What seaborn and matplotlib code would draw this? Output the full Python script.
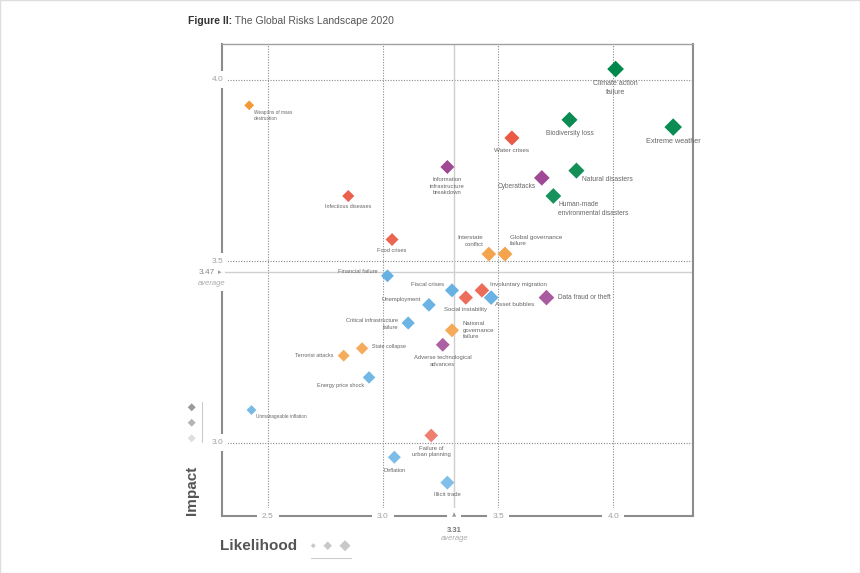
import numpy as np
import pandas as pd
import seaborn as sns
import matplotlib.pyplot as plt
import matplotlib.colors as mcolors
from matplotlib.patches import Rectangle

# data
risks = ['Weapons of mass destruction', 'Infectious diseases', 'Information infrastructure breakdown',
         'Food crises', 'Financial failure', 'Interstate conflict', 'Climate action failure',
         'Biodiversity loss', 'Extreme weather', 'Water crises', 'Cyberattacks', 'Natural disasters',
         'Human-made environmental disasters', 'Global governance failure', 'Fiscal crises',
         'Social instability', 'Involuntary migration', 'Asset bubbles', 'Data fraud or theft',
         'Unemployment', 'Critical infrastructure failure', 'National governance failure',
         'Adverse technological advances', 'State collapse', 'Terrorist attacks', 'Energy price shock',
         'Unmanageable inflation', 'Failure of urban planning', 'Deflation', 'Illicit trade']
labels = ['Weapons of mass\ndestruction', 'Infectious diseases', 'Information\ninfrastructure\nbreakdown',
          'Food crises', 'Financial failure', 'Interstate\nconflict', 'Climate action\nfailure',
          'Biodiversity loss', 'Extreme weather', 'Water crises', 'Cyberattacks', 'Natural disasters',
          'Human-made\nenvironmental disasters', 'Global governance\nfailure', 'Fiscal crises',
          'Social instability', 'Involuntary migration', 'Asset bubbles', 'Data fraud or theft',
          'Unemployment', 'Critical infrastructure\nfailure', 'National\ngovernance\nfailure',
          'Adverse technological\nadvances', 'State collapse', 'Terrorist attacks', 'Energy price shock',
          'Unmanageable inflation', 'Failure of\nurban planning', 'Deflation', 'Illicit trade']
category = ['Geopolitical', 'Societal', 'Technological', 'Societal', 'Economic', 'Geopolitical',
            'Environmental', 'Environmental', 'Environmental', 'Societal', 'Technological',
            'Environmental', 'Environmental', 'Geopolitical', 'Economic', 'Societal', 'Societal',
            'Economic', 'Technological', 'Economic', 'Economic', 'Geopolitical', 'Technological',
            'Geopolitical', 'Geopolitical', 'Economic', 'Economic', 'Societal', 'Economic', 'Economic']
likelihood = [2.42, 2.85, 3.28, 3.04, 3.02, 3.46, 4.01, 3.81, 4.26, 3.56, 3.69, 3.84, 3.74, 3.53, 3.30,
              3.36, 3.43, 3.47, 3.71, 3.20, 3.11, 3.30, 3.26, 2.91, 2.83, 2.94, 2.43, 3.21, 3.05, 3.28]
impact = [3.93, 3.68, 3.76, 3.56, 3.46, 3.52, 4.03, 3.89, 3.87, 3.84, 3.73, 3.75, 3.68, 3.52, 3.42,
          3.40, 3.42, 3.40, 3.40, 3.38, 3.33, 3.31, 3.27, 3.26, 3.24, 3.18, 3.09, 3.02, 2.96, 2.89]
avg_likelihood = 3.31
avg_impact = 3.47
x_ticks = [2.5, 3.0, 3.5, 4.0]
y_ticks = [3.0, 3.5, 4.0]

df = pd.DataFrame({'risk': risks, 'label': labels, 'category': category,
                   'likelihood': likelihood, 'impact': impact})

base_colors = {'Economic': '#4ba3de', 'Environmental': '#00874b', 'Geopolitical': '#f29631',
               'Societal': '#e8503a', 'Technological': '#983a8c'}

# lighter shade for lower impact
def shade(row):
    c = np.array(mcolors.to_rgb(base_colors[row['category']]))
    f = np.clip((4.03 - row['impact']) / 1.14, 0, 1) * 0.3
    return tuple(c + (1 - c) * f)

palette = {r: shade(row) for r, (_, row) in zip(df['risk'], df.iterrows())}

# label placement: offset in pixels from the marker (right, down) and alignment
label_pos = {
    'Weapons of mass destruction': (4.5, 10, 'left'),
    'Infectious diseases': (0, 10.7, 'center'),
    'Information infrastructure breakdown': (0, 19.3, 'center'),
    'Food crises': (0, 11.4, 'center'),
    'Financial failure': (-9.5, -4.8, 'right'),
    'Interstate conflict': (-5.5, -13, 'right'),
    'Climate action failure': (0, 18.7, 'center'),
    'Biodiversity loss': (0, 13.3, 'center'),
    'Extreme weather': (0, 14.3, 'center'),
    'Water crises': (0, 12.7, 'center'),
    'Cyberattacks': (-6, 9, 'right'),
    'Natural disasters': (5.4, 9, 'left'),
    'Human-made environmental disasters': (4.7, 13.1, 'left'),
    'Global governance failure': (5, -13.5, 'left'),
    'Fiscal crises': (-8.3, -6, 'right'),
    'Social instability': (0, 11.7, 'center'),
    'Involuntary migration': (8, -6, 'left'),
    'Asset bubbles': (4.3, 7, 'left'),
    'Data fraud or theft': (11.3, 0, 'left'),
    'Unemployment': (-8.3, -5, 'right'),
    'Critical infrastructure failure': (-10, 1.2, 'right'),
    'National governance failure': (10.7, 0, 'left'),
    'Adverse technological advances': (0, 16.2, 'center'),
    'State collapse': (9.7, -2, 'left'),
    'Terrorist attacks': (-9.7, 0, 'right'),
    'Energy price shock': (-4.7, 8.4, 'right'),
    'Unmanageable inflation': (4.4, 6, 'left'),
    'Failure of urban planning': (0, 15.9, 'center'),
    'Deflation': (0, 13.3, 'center'),
    'Illicit trade': (0, 11.4, 'center'),
}

sns.set_style('white')
plt.rcParams['font.family'] = ['Liberation Sans', 'DejaVu Sans']

fig = plt.figure(figsize=(8.6, 5.73), dpi=100)
ax = fig.add_axes([222 / 860, 57 / 573, 471 / 860, 472 / 573])
ax.set_xlim(2.302, 4.346)
ax.set_ylim(2.798, 4.099)

grid_kw = dict(color='#8a8a8a', lw=0.8, dashes=(1, 1.4), zorder=1)
for v in x_ticks:
    ax.axvline(v, **grid_kw)
for v in y_ticks:
    ax.axhline(v, **grid_kw)
ax.axvline(avg_likelihood, color='#cfcfcf', lw=1.0, zorder=1)
ax.axhline(avg_impact, color='#cfcfcf', lw=1.0, zorder=1)

sns.scatterplot(data=df, x='likelihood', y='impact', hue='risk', palette=palette,
                size='likelihood', sizes=(25, 80), size_norm=(2.42, 4.26),
                marker='D', linewidth=0, legend=False, ax=ax, zorder=3)

for _, row in df.iterrows():
    dx, dy, ha = label_pos[row['risk']]
    fs = 3.4 + (row['likelihood'] - 2.4) * 1.0
    ax.annotate(row['label'], (row['likelihood'], row['impact']), xytext=(dx, -dy),
                textcoords='offset pixels', ha=ha, va='center', fontsize=fs,
                color='#666666', linespacing=1.4, multialignment=ha, zorder=4)

ax.set_xticks([])
ax.set_yticks([])
ax.set_xlabel('')
ax.set_ylabel('')
for side in ['left', 'bottom', 'right']:
    ax.spines[side].set_color('#8c8c8c')
    ax.spines[side].set_linewidth(1.5)
ax.spines['top'].set_color('#a0a0a0')
ax.spines['top'].set_linewidth(1.0)

box = dict(boxstyle='square,pad=0.6', fc='white', ec='none')
for v in x_ticks:
    ax.text(v, 0, f'{v:.1f}', transform=ax.get_xaxis_transform(), ha='center', va='center',
            fontsize=6, color='#a0a0a0', bbox=box, zorder=5, clip_on=False)
for v in y_ticks:
    ax.annotate(f'{v:.1f}', (0, v), xycoords=ax.get_yaxis_transform(), xytext=(-4.5, 0),
                textcoords='offset pixels', ha='center', va='center', fontsize=6,
                color='#a0a0a0', bbox=box, zorder=5, annotation_clip=False)

# averages
ax.annotate('3.47', (0, avg_impact), xycoords=ax.get_yaxis_transform(), xytext=(-7, 0),
            textcoords='offset pixels', ha='right', va='center', fontsize=6, color='#888888',
            bbox=dict(boxstyle='square,pad=0.4', fc='white', ec='none'), zorder=5,
            annotation_clip=False)
ax.annotate('\u25b8', (0, avg_impact), xycoords=ax.get_yaxis_transform(), xytext=(-2, 0),
            textcoords='offset pixels', ha='center', va='center', fontsize=5, color='#999999',
            family=['DejaVu Sans'], bbox=dict(boxstyle='square,pad=0.5', fc='white', ec='none'),
            zorder=5, annotation_clip=False)
ax.annotate('average', (0, avg_impact), xycoords=ax.get_yaxis_transform(), xytext=(-10, -11),
            textcoords='offset pixels', ha='center', va='center', fontsize=5.5, color='#aaaaaa',
            style='italic', bbox=dict(boxstyle='square,pad=0.5', fc='white', ec='none'),
            zorder=5, annotation_clip=False)
ax.annotate('\u25b2', (avg_likelihood, 0), xycoords=ax.get_xaxis_transform(), xytext=(0, 1),
            textcoords='offset pixels', ha='center', va='center', fontsize=4, color='#999999',
            family=['DejaVu Sans'], bbox=dict(boxstyle='square,pad=0.9', fc='white', ec='none'),
            zorder=5, annotation_clip=False)
ax.annotate('3.31', (avg_likelihood, 0), xycoords=ax.get_xaxis_transform(), xytext=(0, -14),
            textcoords='offset pixels', ha='center', va='center', fontsize=5.5, color='#777777',
            weight='bold', annotation_clip=False)
ax.annotate('average', (avg_likelihood, 0), xycoords=ax.get_xaxis_transform(), xytext=(0, -22),
            textcoords='offset pixels', ha='center', va='center', fontsize=5.5, color='#aaaaaa',
            style='italic', annotation_clip=False)

# overlay in pixel coordinates for title and axis legends
ov = fig.add_axes([0, 0, 1, 1])
ov.set_xlim(0, 860)
ov.set_ylim(573, 0)
ov.axis('off')

t1 = ov.text(188, 21, 'Figure II:', fontsize=7.5, weight='bold', color='#333333', va='center')
fig.canvas.draw()
bb = t1.get_window_extent()
ov.text(bb.x1, 21, ' The Global Risks Landscape 2020', fontsize=7.5, color='#555555', va='center')

ov.text(192, 490, 'Impact', rotation=90, fontsize=11, weight='bold', color='#555555',
        ha='center', va='center')
ov.text(220, 546, 'Likelihood', fontsize=11, weight='bold', color='#555555', ha='left', va='center')

ov.scatter([191.7] * 3, [407.3, 422.7, 438.3], marker='D', s=16.6,
           c=['#9a9a9a', '#b4b4b4', '#dedede'], linewidths=0)
ov.plot([202.3, 202.3], [401.7, 441.7], color='#cccccc', lw=0.8)
ov.scatter([313.3, 327.7, 345], [545.7] * 3, marker='D', s=[6.5, 18.7, 31.4],
           c='#c8c8c8', linewidths=0)
ov.plot([311, 350.7], [557.7, 557.7], color='#cccccc', lw=0.8)

fig.patches.append(Rectangle((0, 0), 1, 1, transform=fig.transFigure, fill=False,
                             edgecolor='#dddddd', lw=1))

fig.savefig('out.png', dpi=100)
